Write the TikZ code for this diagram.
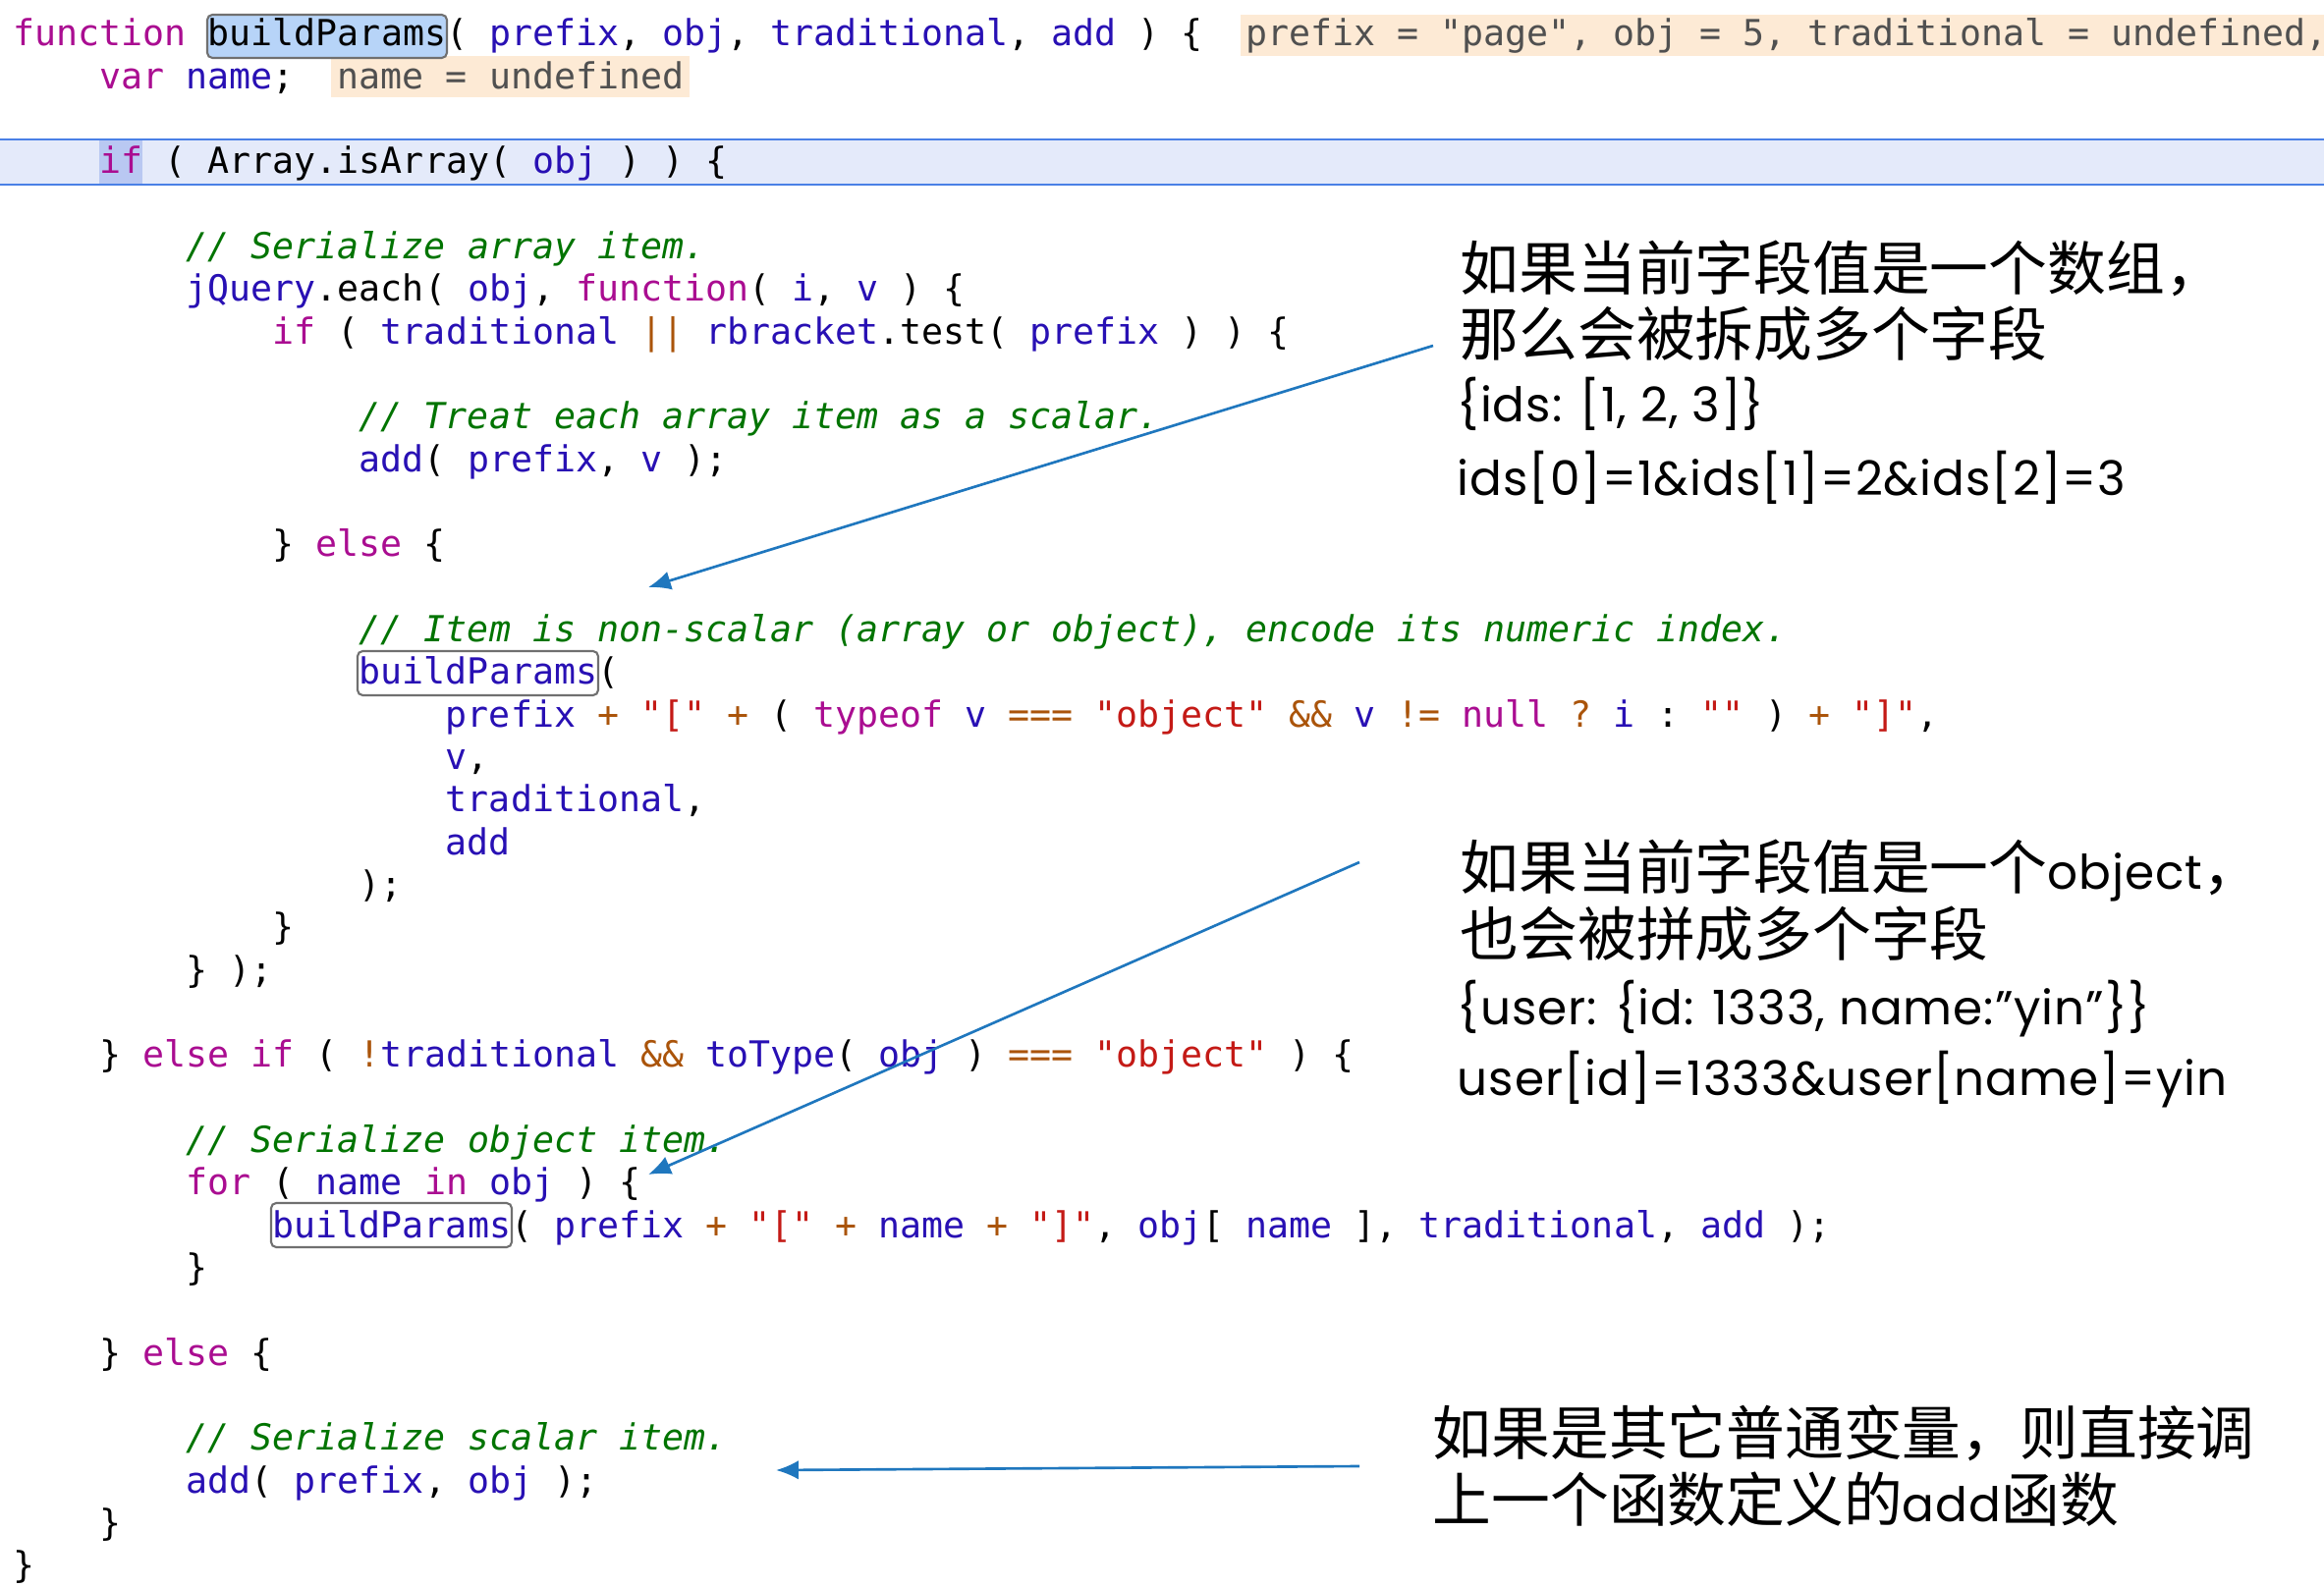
\documentclass[tikz,border=0pt]{standalone}
\usepackage{fontspec}
\setmonofont{DejaVu Sans Mono}
\newfontfamily\cjk{Noto Sans CJK SC}
\newfontfamily\gothic{Poppins}[LetterSpace=2]
\usetikzlibrary{arrows.meta}
\definecolor{keywordColor}{RGB}{170,13,145}
\definecolor{identColor}{RGB}{40,16,180}
\definecolor{operColor}{RGB}{170,84,10}
\definecolor{stringColor}{RGB}{196,26,22}
\definecolor{commentColor}{RGB}{0,116,0}
\definecolor{hintColor}{RGB}{80,80,80}
\definecolor{hintFill}{RGB}{253,234,213}
\definecolor{rowFill}{RGB}{228,234,250}
\definecolor{rowLine}{RGB}{74,128,230}
\definecolor{markFill}{RGB}{185,200,242}
\definecolor{selFill}{RGB}{183,212,248}
\definecolor{boxLine}{RGB}{112,112,112}
\definecolor{pointerColor}{RGB}{31,119,190}
\newcommand{\kw}[1]{\textcolor{keywordColor}{#1}}
\newcommand{\idt}[1]{\textcolor{identColor}{#1}}
\newcommand{\opr}[1]{\textcolor{operColor}{#1}}
\newcommand{\strg}[1]{\textcolor{stringColor}{#1}}
\newcommand{\cmnt}[1]{\textcolor{commentColor}{\itshape #1}}
\newcommand{\lat}[1]{{\gothic\fontsize{13.8}{16}\selectfont #1}}

\begin{document}
\begin{tikzpicture}[
            x=0.01cm, y=-0.01cm,
            code/.style={anchor=base west, inner sep=0pt, font=\ttfamily\fontsize{10.4}{12}\selectfont},
            hint/.style={code, text=hintColor},
            note/.style={anchor=base west, inner sep=0pt, font=\cjk\fontsize{17}{20}\selectfont},
            example/.style={anchor=base west, inner sep=0pt, font=\gothic\fontsize{13.8}{16}\selectfont},
            tokenbox/.style={draw=boxLine, line width=0.6pt, rounded corners=1.5pt},
            pointer/.style={draw=pointerColor, line width=0.75pt, -{Latex[length=6.5pt,width=5.5pt]}}
        ]
        \useasboundingbox (0,0) rectangle (2366,1616);
        \clip (0,0) rectangle (2366,1616);
        \fill[white] (0,0) rectangle (2366,1616);

        \fill[hintFill] (1263,15) rectangle (2366,57);
        \fill[hintFill] (337,57) rectangle (702,99);
        \fill[rowFill] (0,142) rectangle (2366,188);
        \draw[rowLine, line width=0.8pt] (0,142) -- (2366,142) (0,188) -- (2366,188);
        \fill[markFill] (101,143) rectangle (145,187);
        \draw[tokenbox, fill=selFill] (211,15) rectangle (455,59);
        \draw[tokenbox] (364,663) rectangle (609,708);
        \draw[tokenbox] (276,1225) rectangle (521,1270);

        \begin{scope}[shift={(13,47)}, x=0.22cm, y=-0.433cm]
                \node[code] (l0) at (0,0) {\kw{function} buildParams( \idt{prefix}, \idt{obj}, \idt{traditional}, \idt{add} ) \{};
                \node[hint] (h0) at (57,0) {prefix = "page", obj = 5, traditional = undefined,};
                \node[code] (l1) at (4,1) {\kw{var} \idt{name};};
                \node[hint] (h1) at (15,1) {name = undefined};
                \node[code] (l3) at (4,3) {\kw{if} ( Array.isArray( \idt{obj} ) ) \{};
                \node[code] (l5) at (8,5) {\cmnt{// Serialize array item.}};
                \node[code] (l6) at (8,6) {\idt{jQuery}.each( \idt{obj}, \kw{function}( \idt{i}, \idt{v} ) \{};
                \node[code] (l7) at (12,7) {\kw{if} ( \idt{traditional} \opr{||} \idt{rbracket}.test( \idt{prefix} ) ) \{};
                \node[code] (l9) at (16,9) {\cmnt{// Treat each array item as a scalar.}};
                \node[code] (l10) at (16,10) {\idt{add}( \idt{prefix}, \idt{v} );};
                \node[code] (l12) at (12,12) {\} \kw{else} \{};
                \node[code] (l14) at (16,14) {\cmnt{// Item is non-scalar (array or object), encode its numeric index.}};
                \node[code] (l15) at (16,15) {\idt{buildParams}(};
                \node[code] (l16) at (20,16) {\idt{prefix} \opr{+} \strg{"["} \opr{+} ( \kw{typeof} \idt{v} \opr{===} \strg{"object"} \opr{\&\&} \idt{v} \opr{!=} \kw{null} \opr{?} \idt{i} : \strg{""} ) \opr{+} \strg{"]"},};
                \node[code] (l17) at (20,17) {\idt{v},};
                \node[code] (l18) at (20,18) {\idt{traditional},};
                \node[code] (l19) at (20,19) {\idt{add}};
                \node[code] (l20) at (16,20) {);};
                \node[code] (l21) at (12,21) {\}};
                \node[code] (l22) at (8,22) {\} );};
                \node[code] (l24) at (4,24) {\} \kw{else if} ( \opr{!}\idt{traditional} \opr{\&\&} \idt{toType}( \idt{obj} ) \opr{===} \strg{"object"} ) \{};
                \node[code] (l26) at (8,26) {\cmnt{// Serialize object item.}};
                \node[code] (l27) at (8,27) {\kw{for} ( \idt{name} \kw{in} \idt{obj} ) \{};
                \node[code] (l28) at (12,28) {\idt{buildParams}( \idt{prefix} \opr{+} \strg{"["} \opr{+} \idt{name} \opr{+} \strg{"]"}, \idt{obj}[ \idt{name} ], \idt{traditional}, \idt{add} );};
                \node[code] (l29) at (8,29) {\}};
                \node[code] (l31) at (4,31) {\} \kw{else} \{};
                \node[code] (l33) at (8,33) {\cmnt{// Serialize scalar item.}};
                \node[code] (l34) at (8,34) {\idt{add}( \idt{prefix}, \idt{obj} );};
                \node[code] (l35) at (4,35) {\}};
                \node[code] (l36) at (0,36) {\}};
            \end{scope}

        \node[note] (n1a) at (1486,296) {如果当前字段值是一个数组，};
        \node[note] (n1b) at (1486,363) {那么会被拆成多个字段};
        \node[example] (n1c) at (1483,430) {\{ids: [1, 2, 3]\}};
        \node[example] (n1d) at (1483,505) {ids[0]=1\&ids[1]=2\&ids[2]=3};
        \node[note] (n2a) at (1486,906) {如果当前字段值是一个\lat{object}，};
        \node[note] (n2b) at (1486,974) {也会被拼成多个字段};
        \node[example] (n2c) at (1483,1043) {\{user: \{id: 1333, name:”yin”\}\}};
        \node[example] (n2d) at (1483,1115) {user[id]=1333\&user[name]=yin};
        \node[note] (n3a) at (1458,1481) {如果是其它普通变量，则直接调};
        \node[note] (n3b) at (1458,1549) {上一个函数定义的\lat{add}函数};

        \coordinate (p1) at (660,598);
        \coordinate (p2) at (660,1196);
        \coordinate (p3) at (790,1497);
        \draw[pointer] ([shift={(-27,-11)}]n1b.base west) -- (p1);
        \draw[pointer] ([shift={(-102,-28)}]n2a.base west) -- (p2);
        \draw[pointer] ([shift={(-74,12)}]n3a.base west) -- (p3);

    \end{tikzpicture}
\end{document}
